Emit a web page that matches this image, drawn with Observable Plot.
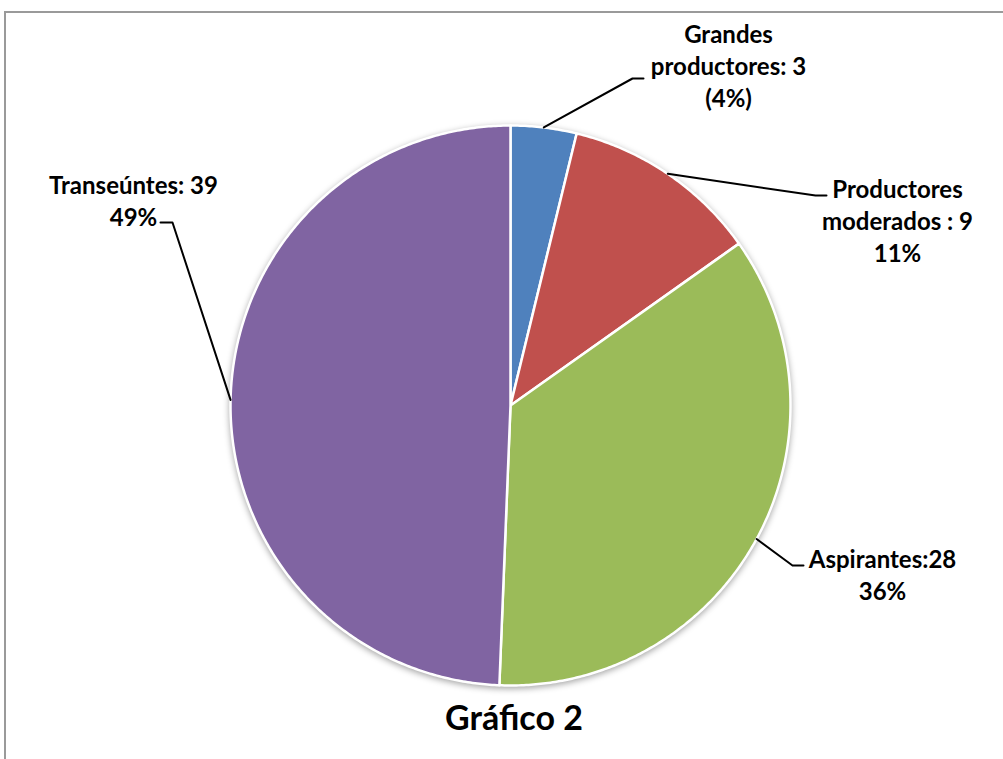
<!DOCTYPE html>
<html><head><meta charset="utf-8">
<script src="https://cdn.jsdelivr.net/npm/d3@7"></script>
<script src="https://cdn.jsdelivr.net/npm/@observablehq/plot@0.6"></script>
<style>
body{margin:0;background:#fff;font-family:Lato,sans-serif;overflow:hidden;width:1003px;height:759px;position:relative;}
#frame{position:absolute;left:4px;top:11px;width:1200px;height:900px;border-left:2px solid #9a9a9a;border-top:2px solid #9a9a9a;pointer-events:none}
#title{position:absolute;left:0;top:700px;width:1028px;text-align:center;font-family:Lato,sans-serif;font-weight:bold;font-size:34px;line-height:34px;color:#000}
#chart{position:absolute;left:0;top:0}
#chart g[aria-label="line"]:first-of-type{filter:drop-shadow(0px 2px 3px rgba(0,0,0,0.35))}
</style></head><body>
<div id="chart"></div>
<div id="title">Gráfico 2</div>
<div id="frame"></div>
<script>
// Data
const categories = ["Grandes productores", "Productores moderados", "Aspirantes", "Transeúntes"];
const values = [3, 9, 28, 39];
const labelTexts = ["Grandes\nproductores: 3\n(4%)", "Productores\nmoderados : 9\n11%", "Aspirantes:28\n36%", "Transeúntes: 39\n49%"];
const colors = ["#4F81BD", "#C0504D", "#9BBB59", "#8064A2"];

// Layout (pixels)
const cx = 510, cy = 405, r = 280;
const labelX = [728, 897, 882, 133];
const labelY = [64, 219, 573, 199];
const elbowX = [632, 815, 792, 172];
const elbowY = [78, 195, 565, 222];
const endX = [643, 826, 803, 160];
const endY = [78, 195, 565, 222];

const arcs = d3.pie().sort(null).value(d => d)(values);
const slicePts = [];
arcs.forEach((a, i) => {
  const cat = categories[i];
  slicePts.push({x: cx, y: cy, cat});
  const n = Math.max(2, Math.ceil((a.endAngle - a.startAngle) / (Math.PI / 360)));
  for (let k = 0; k <= n; k++) {
    const t = a.startAngle + (a.endAngle - a.startAngle) * k / n;
    slicePts.push({x: cx + r * Math.sin(t), y: cy - r * Math.cos(t), cat});
  }
  slicePts.push({x: cx, y: cy, cat});
});

const leaderPts = [];
arcs.forEach((a, i) => {
  const m = (a.startAngle + a.endAngle) / 2;
  const cat = categories[i];
  leaderPts.push({x: cx + r * Math.sin(m), y: cy - r * Math.cos(m), cat});
  leaderPts.push({x: elbowX[i], y: elbowY[i], cat});
  leaderPts.push({x: endX[i], y: endY[i], cat});
});

const labels = categories.map((c, i) => ({x: labelX[i], y: labelY[i], text: labelTexts[i]}));

const chart = Plot.plot({
  width: 1003,
  height: 700,
  margin: 0,
  x: {domain: [0, 1003], range: [0, 1003], axis: null},
  y: {domain: [0, 700], range: [0, 700], axis: null},
  color: {domain: categories, range: colors},
  style: {background: "transparent", overflow: "visible"},
  marks: [
    Plot.line(slicePts, {x: "x", y: "y", z: "cat", fill: "cat", stroke: "white", strokeWidth: 2.5, strokeLinejoin: "round", curve: "linear"}),
    Plot.line(leaderPts, {x: "x", y: "y", z: "cat", stroke: "black", strokeWidth: 2, curve: "linear"}),
    Plot.text(labels, {x: "x", y: "y", text: "text", fontSize: 24, fontWeight: "bold", fontFamily: "Lato, sans-serif", lineHeight: 1.34, fill: "black", textAnchor: "middle"})
  ]
});
document.getElementById("chart").appendChild(chart);
</script>
</body></html>
